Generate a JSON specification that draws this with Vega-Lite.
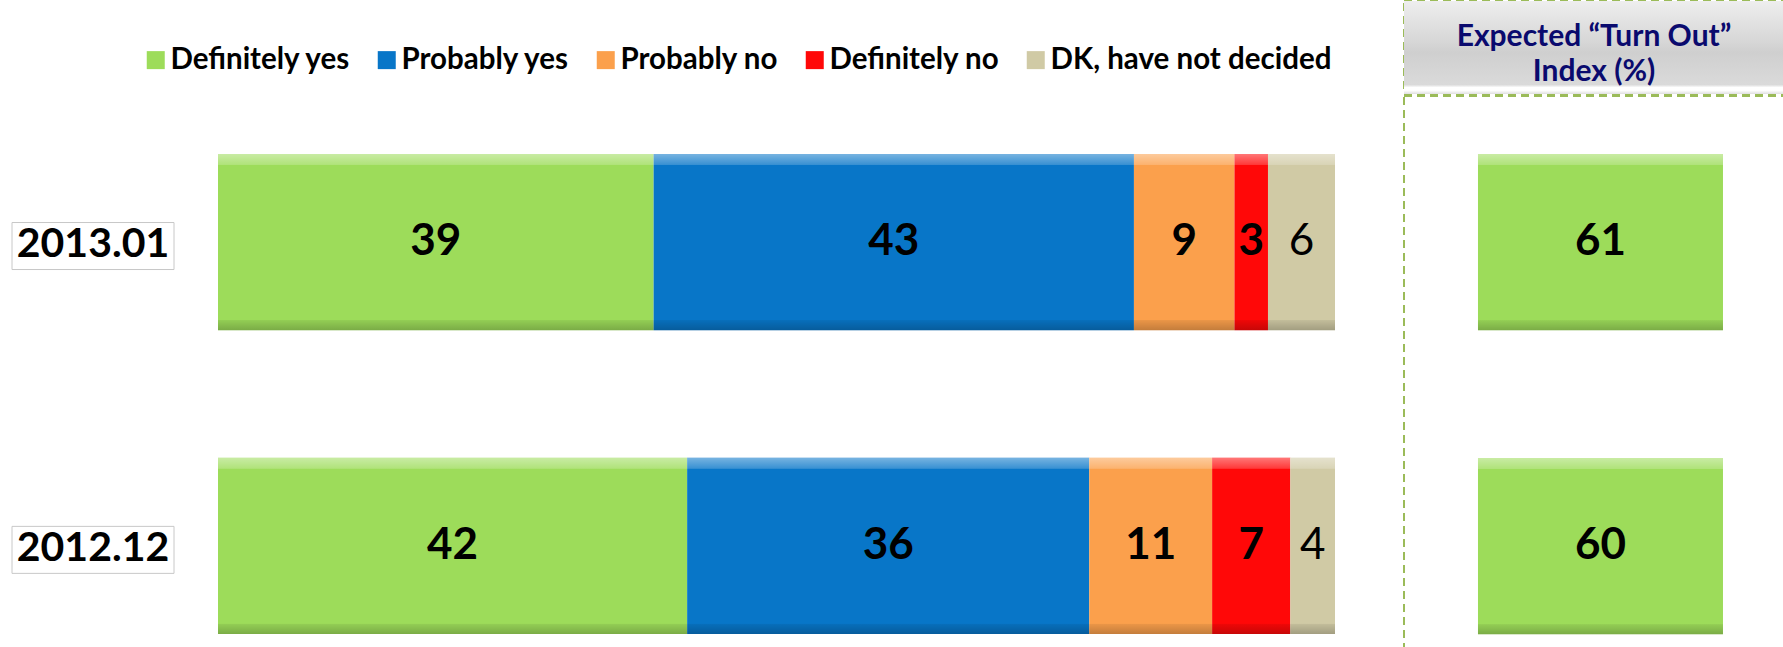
{
  "$schema": "https://vega.github.io/schema/vega-lite/v6.json",
  "background": "white",
  "padding": {"left": 11, "top": 0, "right": 0, "bottom": 0},
  "config": {
    "view": {"stroke": null},
    "font": "Lato, sans-serif",
    "legend": {
      "padding": 0,
      "symbolType": "square",
      "symbolSize": 324,
      "symbolStrokeWidth": 0,
      "symbolOpacity": 1,
      "labelFontSize": 29.5,
      "labelFontWeight": "bold",
      "labelColor": "#000000",
      "labelFont": "Lato, sans-serif",
      "labelOffset": 0,
      "columnPadding": 21,
      "labelLimit": 400
    }
  },
  "datasets": {
    "survey": [
      {"period": "2013.01", "response": "Definitely yes", "order": 1, "value": 39},
      {"period": "2013.01", "response": "Probably yes", "order": 2, "value": 43},
      {"period": "2013.01", "response": "Probably no", "order": 3, "value": 9},
      {"period": "2013.01", "response": "Definitely no", "order": 4, "value": 3},
      {"period": "2013.01", "response": "DK, have not decided", "order": 5, "value": 6},
      {"period": "2012.12", "response": "Definitely yes", "order": 1, "value": 42},
      {"period": "2012.12", "response": "Probably yes", "order": 2, "value": 36},
      {"period": "2012.12", "response": "Probably no", "order": 3, "value": 11},
      {"period": "2012.12", "response": "Definitely no", "order": 4, "value": 7},
      {"period": "2012.12", "response": "DK, have not decided", "order": 5, "value": 4}
    ],
    "index": [
      {"period": "2013.01", "turnout": 61},
      {"period": "2012.12", "turnout": 60}
    ],
    "header": [
      {"row": 1, "line": "Expected “Turn Out”"},
      {"row": 2, "line": "Index (%)"}
    ]
  },
  "spacing": 68,
  "resolve": {"scale": {"x": "independent", "y": "independent"}},
  "hconcat": [
    {
      "spacing": 43,
      "resolve": {"scale": {"x": "independent", "y": "independent"}},
      "hconcat": [
        {
          "width": 162,
          "height": 647,
          "data": {"name": "index"},
          "encoding": {
            "y": {"field": "period", "type": "nominal", "sort": ["2013.01", "2012.12"],
                  "scale": {"paddingInner": 0.42, "paddingOuter": 0.2747, "align": 0.916}, "axis": null}
          },
          "layer": [
            {
              "mark": {"type": "bar", "height": 47, "fill": "white", "stroke": "#c8c8c8", "strokeWidth": 1, "yOffset": 4},
              "encoding": {
                "x": {"datum": 0, "type": "quantitative", "scale": {"domain": [0, 1]}, "axis": null},
                "x2": {"datum": 1}
              }
            },
            {
              "mark": {"type": "text", "fontSize": 41, "fontWeight": "bold", "color": "#000000", "yOffset": 3},
              "encoding": {
                "x": {"datum": 0.5, "type": "quantitative"},
                "text": {"field": "period"}
              }
            }
          ]
        },
        {
          "width": 1117,
          "height": 647,
          "data": {"name": "survey"},
          "transform": [
            {"stack": "value", "groupby": ["period"], "sort": [{"field": "order", "order": "ascending"}], "as": ["v0", "v1"]}
          ],
          "encoding": {
            "y": {"field": "period", "type": "nominal", "sort": ["2013.01", "2012.12"],
                  "scale": {"paddingInner": 0.42, "paddingOuter": 0.2747, "align": 0.916}, "axis": null}
          },
          "layer": [
            {
              "mark": {"type": "bar"},
              "encoding": {
                "x": {"field": "v0", "type": "quantitative", "scale": {"domain": [0, 100]}, "axis": null},
                "x2": {"field": "v1"},
                "color": {
                  "field": "response", "type": "nominal",
                  "scale": {
                    "domain": ["Definitely yes", "Probably yes", "Probably no", "Definitely no", "DK, have not decided"],
                    "range": ["#9ddc5a", "#0876c8", "#fba04c", "#ff0808", "#d0caa5"]
                  },
                  "legend": {"title": null, "orient": "none", "direction": "horizontal", "legendX": 129, "legendY": 44}
                }
              }
            },
            {
              "mark": {"type": "bar", "fill": {"gradient": "linear", "x1": 0, "y1": 0, "x2": 0, "y2": 1,
                "stops": [
                  {"offset": 0, "color": "rgba(255,255,255,0.45)"},
                  {"offset": 0.06, "color": "rgba(255,255,255,0.2)"},
                  {"offset": 0.065, "color": "rgba(255,255,255,0)"},
                  {"offset": 0.94, "color": "rgba(0,0,0,0)"},
                  {"offset": 0.945, "color": "rgba(0,0,0,0.07)"},
                  {"offset": 1, "color": "rgba(0,0,0,0.22)"}
                ]}},
              "encoding": {
                "x": {"field": "v0", "type": "quantitative"},
                "x2": {"field": "v1"}
              }
            },
            {
              "transform": [
                {"fold": ["v0", "v1"], "as": ["edge", "pos"]},
                {"aggregate": [{"op": "mean", "field": "pos", "as": "mid"}, {"op": "max", "field": "value", "as": "value"}], "groupby": ["period", "response"]},
                {"filter": {"not": {"field": "response", "equal": "DK, have not decided"}}}
              ],
              "mark": {"type": "text", "fontSize": 44, "fontWeight": "bold", "color": "#000000"},
              "encoding": {
                "x": {"field": "mid", "type": "quantitative"},
                "text": {"field": "value", "type": "quantitative"}
              }
            },
            {
              "transform": [
                {"fold": ["v0", "v1"], "as": ["edge", "pos"]},
                {"aggregate": [{"op": "mean", "field": "pos", "as": "mid"}, {"op": "max", "field": "value", "as": "value"}], "groupby": ["period", "response"]},
                {"filter": {"field": "response", "equal": "DK, have not decided"}}
              ],
              "mark": {"type": "text", "fontSize": 44, "fontWeight": "normal", "color": "#000000"},
              "encoding": {
                "x": {"field": "mid", "type": "quantitative"},
                "text": {"field": "value", "type": "quantitative"}
              }
            }
          ]
        }
      ]
    },
    {
      "spacing": 0,
      "resolve": {"scale": {"x": "independent", "y": "independent"}},
      "vconcat": [
        {
          "width": 380,
          "height": 93,
          "data": {"name": "header"},
          "view": {"stroke": "#9bbb59", "strokeDash": [8, 5], "strokeWidth": 2},
          "resolve": {"scale": {"y": "independent"}},
          "layer": [
            {
              "mark": {"type": "rect", "fill": {"gradient": "linear", "x1": 0, "y1": 0, "x2": 0, "y2": 1,
                "stops": [{"offset": 0, "color": "#eeeeee"}, {"offset": 0.45, "color": "#d6d6d6"}, {"offset": 0.55, "color": "#cfcfcf"}, {"offset": 0.9, "color": "#dadada"}, {"offset": 0.93, "color": "#ffffff"}, {"offset": 0.96, "color": "#ffffff"}, {"offset": 1, "color": "#e0e0e0"}]}},
              "encoding": {
                "x": {"datum": 0, "type": "quantitative", "scale": {"domain": [0, 1]}, "axis": null},
                "x2": {"datum": 1},
                "y": {"datum": 0, "type": "quantitative", "scale": {"domain": [0, 1]}, "axis": null},
                "y2": {"datum": 1}
              }
            },
            {
              "mark": {"type": "text", "fontSize": 30, "fontWeight": "bold", "color": "#0a0a6e"},
              "encoding": {
                "x": {"datum": 0.5, "type": "quantitative"},
                "y": {"field": "row", "type": "ordinal", "scale": {"type": "point", "padding": 0.8286, "align": 0.62}, "axis": null},
                "text": {"field": "line"}
              }
            }
          ]
        },
        {
          "width": 380,
          "height": 554,
          "data": {"name": "index"},
          "view": {"stroke": "#9bbb59", "strokeDash": [8, 5], "strokeWidth": 2},
          "encoding": {
            "y": {"field": "period", "type": "nominal", "sort": ["2013.01", "2012.12"],
                  "scale": {"paddingInner": 0.42, "paddingOuter": 0.1212, "align": 0.787}, "axis": null},
            "x": {"datum": "Expected Turn Out Index", "type": "nominal",
                  "scale": {"paddingInner": 0, "paddingOuter": 0.2755, "align": 0.548}, "axis": null}
          },
          "layer": [
            {"mark": {"type": "bar", "color": "#9ddc5a"}},
            {"mark": {"type": "bar", "fill": {"gradient": "linear", "x1": 0, "y1": 0, "x2": 0, "y2": 1,
                "stops": [
                  {"offset": 0, "color": "rgba(255,255,255,0.45)"},
                  {"offset": 0.06, "color": "rgba(255,255,255,0.2)"},
                  {"offset": 0.065, "color": "rgba(255,255,255,0)"},
                  {"offset": 0.94, "color": "rgba(0,0,0,0)"},
                  {"offset": 0.945, "color": "rgba(0,0,0,0.07)"},
                  {"offset": 1, "color": "rgba(0,0,0,0.22)"}
                ]}}},
            {
              "mark": {"type": "text", "fontSize": 44, "fontWeight": "bold", "color": "#000000"},
              "encoding": {"text": {"field": "turnout", "type": "quantitative"}}
            }
          ]
        }
      ]
    }
  ]
}
